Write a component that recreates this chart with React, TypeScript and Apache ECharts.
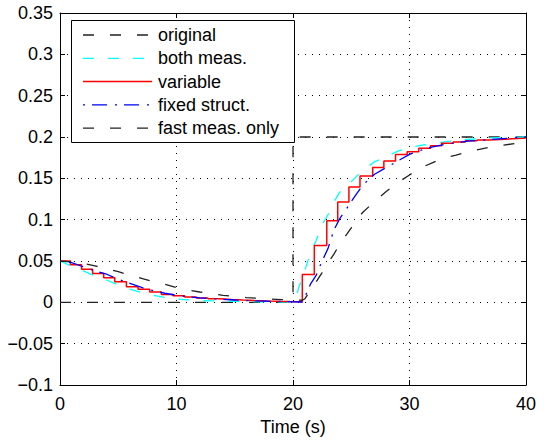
import React, { useEffect, useRef } from "react";
import * as echarts from "echarts";

// Reference (setpoint) signal
const originalT = [0, 20, 20, 40];
const originalV = [0, 0, 0.2, 0.2];

// "both meas." (cyan dashed)
const cyanT = [0, 1, 2, 3, 4, 5, 6, 7, 8, 9, 10, 11, 12, 13, 14, 15, 16, 17, 18, 19, 20, 20.2, 20.5, 21, 21.5, 22, 22.5, 23, 23.5, 24, 25, 26, 27, 28, 29, 30, 31, 32, 33, 34, 35, 36, 37, 38, 39, 40];
const cyanV = [0.05, 0.044, 0.038, 0.032, 0.027, 0.021, 0.016, 0.012, 0.0085, 0.006, 0.004, 0.003, 0.0023, 0.0018, 0.0014, 0.0011, 0.0009, 0.0007, 0.0005, 0.0003, 0.0002, 0.003, 0.018, 0.038, 0.06, 0.075, 0.094, 0.106, 0.121, 0.133, 0.146, 0.16, 0.17, 0.176, 0.183, 0.187, 0.19, 0.192, 0.194, 0.196, 0.197, 0.198, 0.199, 0.1993, 0.1996, 0.2];

// "variable" (red staircase, zero-order hold)
const redT = [0, 0.9, 1.85, 2.8, 3.75, 4.7, 5.7, 6.7, 7.7, 8.7, 9.7, 10.7, 11.7, 12.7, 13.7, 14.7, 15.7, 16.7, 17.7, 18.7, 19.7, 20.8, 21.83, 22.9, 23.84, 24.8, 25.75, 26.84, 27.8, 28.8, 29.8, 30.8, 31.8, 32.76, 33.76, 34.8, 35.8, 36.8, 37.8, 38.8, 39.8, 40];
const redV = [0.05, 0.0455, 0.04, 0.0348, 0.0296, 0.0248, 0.019, 0.0158, 0.0125, 0.0096, 0.008, 0.0065, 0.0052, 0.0042, 0.0034, 0.0027, 0.0021, 0.0016, 0.0012, 0.0009, 0.0007, 0.0336, 0.0688, 0.0987, 0.1215, 0.1396, 0.1527, 0.163, 0.171, 0.1787, 0.1823, 0.1864, 0.1895, 0.1924, 0.194, 0.1955, 0.1965, 0.197, 0.1978, 0.1985, 0.199, 0.199];

// "fixed struct." (blue dash-dot)
const blueT = [0, 1, 2, 3, 4, 5, 6, 7, 8, 9, 10, 11, 12, 13, 14, 15, 16, 17, 18, 19, 20, 20.8, 21, 21.5, 22, 22.5, 23, 23.5, 24, 24.5, 25, 25.5, 26, 27, 28, 29, 30, 31, 32, 33, 34, 35, 36, 37, 38, 39, 40];
const blueV = [0.05, 0.048, 0.043, 0.038, 0.034, 0.028, 0.023, 0.018, 0.014, 0.011, 0.0085, 0.0068, 0.0055, 0.0045, 0.0035, 0.0028, 0.0022, 0.0017, 0.0013, 0.001, 0.0006, 0.0004, 0.006, 0.022, 0.033, 0.05, 0.065, 0.087, 0.101, 0.111, 0.122, 0.132, 0.142, 0.155, 0.163, 0.171, 0.179, 0.184, 0.188, 0.191, 0.193, 0.195, 0.196, 0.197, 0.198, 0.199, 0.2];

// "fast meas. only" (black dashed)
const fastT = [0, 1, 2, 3, 4, 5, 6, 7, 8, 9, 10, 11, 12, 13, 14, 15, 16, 17, 18, 19, 20, 20.8, 21, 21.5, 22, 22.5, 23, 23.5, 24, 24.5, 25, 25.5, 26, 27, 28, 29, 30, 31, 32, 33, 34, 35, 36, 37, 38, 39, 40];
const fastV = [0.05, 0.049, 0.047, 0.044, 0.041, 0.037, 0.033, 0.029, 0.025, 0.022, 0.018, 0.015, 0.0125, 0.0102, 0.0085, 0.007, 0.0058, 0.0048, 0.004, 0.0033, 0.003, 0.0025, 0.004, 0.014, 0.025, 0.036, 0.048, 0.058, 0.07, 0.08, 0.09, 0.101, 0.109, 0.122, 0.134, 0.145, 0.154, 0.163, 0.169, 0.175, 0.178, 0.182, 0.185, 0.188, 0.19, 0.192, 0.194];

const legendNames = ["original", "both meas.", "variable", "fixed struct.", "fast meas. only"];
const xTicks = { min: 0, max: 40, interval: 10 };
const yTicks = { min: -0.1, max: 0.35, interval: 0.05 };

const FONT = "'Liberation Sans', Arial, Helvetica, sans-serif";

const zip = (t: number[], v: number[]) => t.map((x, i) => [x, v[i]]);

export default function App() {
  const ref = useRef<HTMLDivElement>(null);
  useEffect(() => {
    if (!ref.current) return;
    const chart = echarts.init(ref.current, undefined, { renderer: "svg" });

    const styles = [
      { color: "#222222", type: [11, 16] as number[], width: 1.3 },
      { color: "#00ffff", type: [11, 14] as number[], width: 1.3 },
      { color: "#ff0000", type: "solid" as any, width: 1.5 },
      { color: "#0000ff", type: [2, 7, 15, 8] as number[], width: 1.3 },
      { color: "#222222", type: [11, 16] as number[], width: 1.3 },
    ];
    const datas = [
      zip(originalT, originalV),
      zip(cyanT, cyanV),
      zip(redT, redV),
      zip(blueT, blueV),
      zip(fastT, fastV),
    ];

    const series: any[] = datas.map((d, i) => ({
      name: legendNames[i],
      type: "line",
      data: d,
      symbol: "none",
      step: i === 2 ? "end" : false,
      smooth: false,
      xAxisIndex: 0,
      yAxisIndex: 0,
      lineStyle: { color: styles[i].color, width: styles[i].width, type: styles[i].type },
      z: 3 + i,
    }));

    const lx0 = 83, lx1 = 152, tx = 158, ly0 = 35, dy = 23.3;
    const legendEls: any[] = [
      {
        type: "rect",
        shape: { x: 71.5, y: 20.5, width: 223, height: 122 },
        style: { fill: "#ffffff", stroke: "#000000", lineWidth: 1 },
        z: 100,
      },
    ];
    legendNames.forEach((n, i) => {
      const y = ly0 + i * dy;
      const s = styles[i];
      legendEls.push({
        type: "line",
        shape: { x1: lx0, y1: y, x2: lx1, y2: y },
        style: {
          stroke: s.color,
          lineWidth: s.width,
          lineDash: Array.isArray(s.type) ? s.type : null,
        },
        z: 101,
      });
      legendEls.push({
        type: "text",
        x: tx,
        y: y,
        style: {
          text: n,
          font: `18px ${FONT}`,
          fill: "#000000",
          verticalAlign: "middle",
          align: "left",
        },
        z: 101,
      });
    });

    const fmt = (v: number) => {
      const r = Math.round(v * 100) / 100;
      if (r < 0) return "\u2212" + String(-r);
      return String(r);
    };

    const axisCommon = {
      axisLine: { show: true, onZero: false, lineStyle: { color: "#000", width: 1 } },
      axisTick: { show: true, inside: true, length: 5, lineStyle: { color: "#000", width: 1 } },
    };

    chart.setOption({
      animation: false,
      backgroundColor: "#ffffff",
      textStyle: { fontFamily: FONT },
      grid: { left: 60, top: 13, width: 466, height: 375, containLabel: false },
      xAxis: [
        {
          type: "value",
          position: "bottom",
          min: xTicks.min,
          max: xTicks.max,
          interval: xTicks.interval,
          ...axisCommon,
          axisLabel: { color: "#000", fontSize: 18, fontFamily: FONT, margin: 10 },
          splitLine: { show: true, lineStyle: { color: "#000", width: 1, type: [1, 6] } },
          name: "Time (s)",
          nameLocation: "middle",
          nameGap: 33,
          nameTextStyle: { color: "#000", fontSize: 18, fontFamily: FONT },
        },
        {
          type: "value",
          position: "top",
          min: xTicks.min,
          max: xTicks.max,
          interval: xTicks.interval,
          ...axisCommon,
          axisLabel: { show: false },
          splitLine: { show: false },
        },
      ],
      yAxis: [
        {
          type: "value",
          position: "left",
          min: yTicks.min,
          max: yTicks.max,
          interval: yTicks.interval,
          ...axisCommon,
          axisLabel: { color: "#000", fontSize: 18, fontFamily: FONT, margin: 7, formatter: fmt },
          splitLine: { show: true, lineStyle: { color: "#000", width: 1, type: [1, 6] } },
        },
        {
          type: "value",
          position: "right",
          min: yTicks.min,
          max: yTicks.max,
          interval: yTicks.interval,
          ...axisCommon,
          axisLabel: { show: false },
          splitLine: { show: false },
        },
      ],
      series,
      graphic: legendEls,
    });
    return () => chart.dispose();
  }, []);
  return (
    <div
      ref={ref}
      style={{ position: "fixed", left: 0, top: 0, width: 547, height: 441, background: "#fff" }}
    />
  );
}
